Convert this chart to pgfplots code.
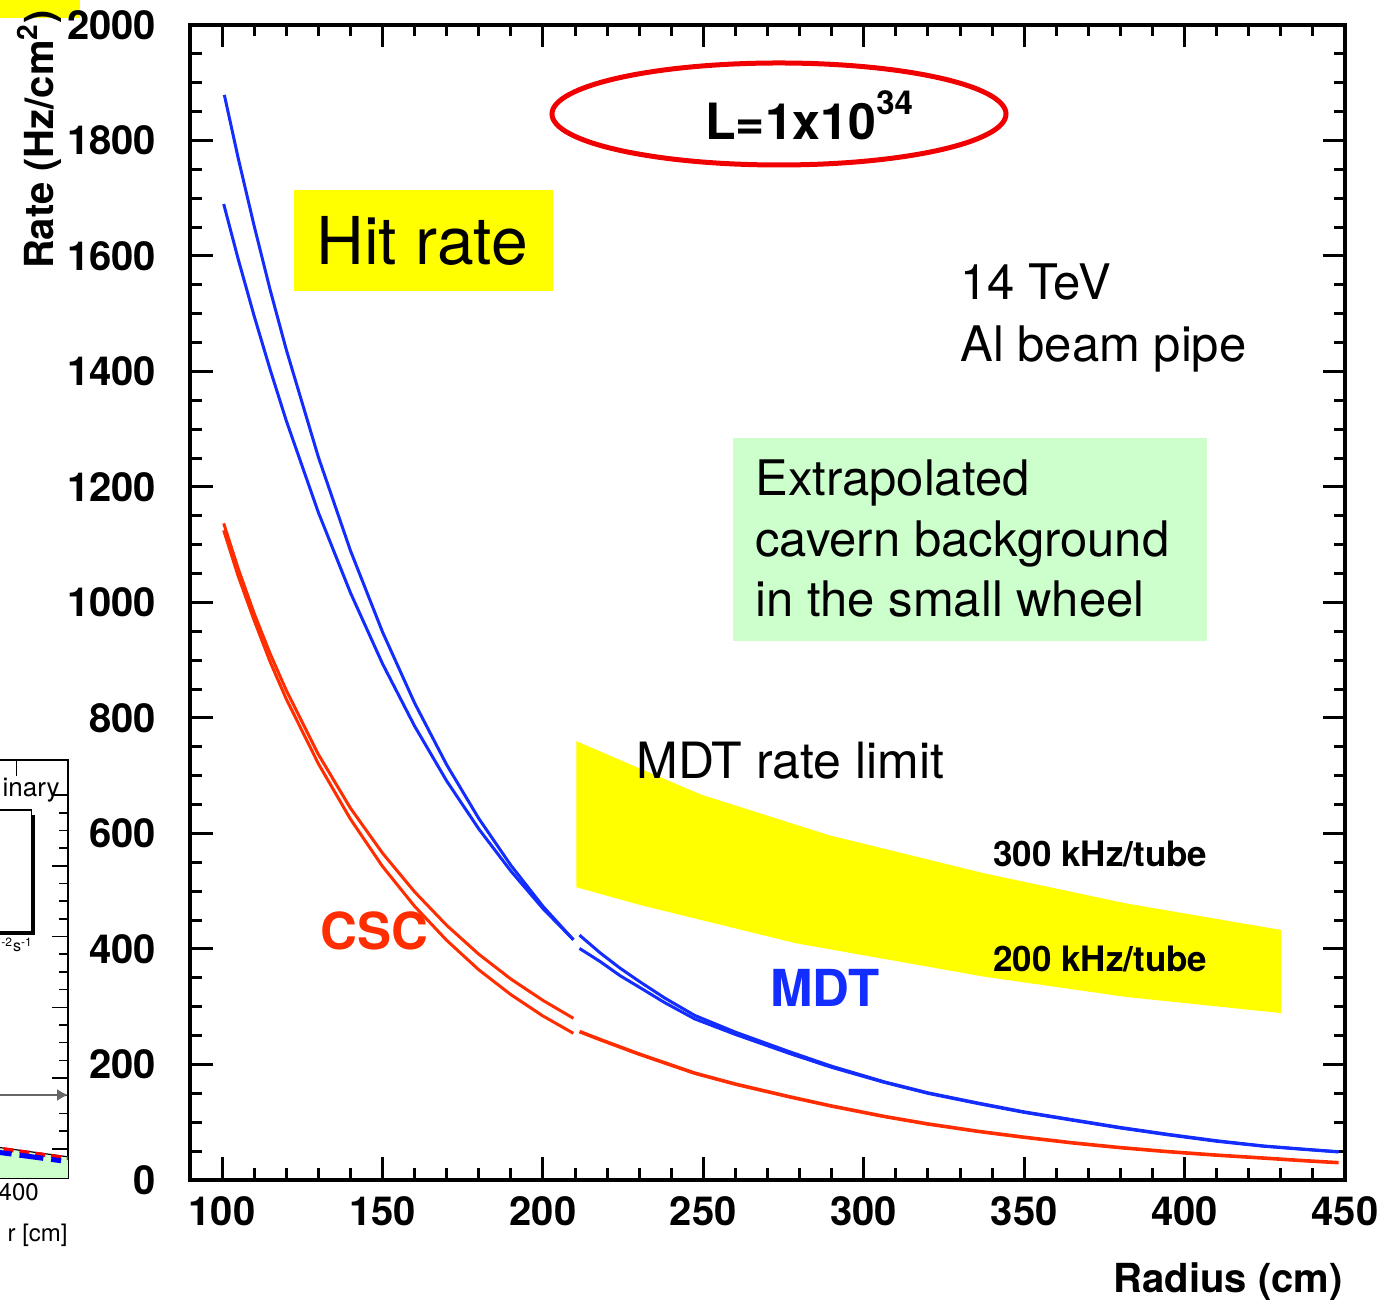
\documentclass[border=0pt]{standalone}
\usepackage{pgfplots}
\pgfplotsset{compat=1.18}
\usepackage{fontspec}
\setmainfont{TeX Gyre Heros}
\usetikzlibrary{arrows.meta}

\definecolor{mdtblue}{RGB}{20,45,255}
\definecolor{cscred}{RGB}{255,45,0}
\definecolor{lumired}{RGB}{240,0,0}
\definecolor{bandyellow}{RGB}{255,255,0}
\definecolor{boxgreen}{RGB}{204,255,204}

\begin{document}
\begin{tikzpicture}[x=1pt,y=1pt]
\useasboundingbox (0,0) rectangle (691.5,650);

% ---- neighbouring panel (background rates vs r), mostly outside the page ----
\begin{axis}[at={(-164pt,61pt)}, anchor=south west, scale only axis,
  width=198pt, height=209pt,
  xmin=0, xmax=460, ymin=-0.414, ymax=5.498,
  xtick={0,100,...,400}, xticklabels={,,,,400}, minor x tick num=4,
  ytick={0,...,5}, minor y tick num=3, yticklabel=\empty,
  tick align=inside, xtick pos=both, ytick pos=both,
  axis line style={line width=0.9pt},
  major tick length=8pt, minor tick length=4.5pt,
  every tick/.style={black, line width=0.8pt},
  /pgf/number format/assume math mode=true,
  xticklabel style={font=\fontsize{12}{14}\selectfont, anchor=north, inner sep=0pt, yshift=-2.5pt, xshift=1.2pt},
]
\addplot[fill=boxgreen, draw=none] coordinates {(330,-0.414) (330,0.085) (460,-0.13) (460,-0.414)} -- cycle;
\addplot[black, line width=0.6pt] coordinates {(330,0.1) (460,-0.115)};
\addplot[red, line width=2pt, dash pattern=on 5pt off 3pt] coordinates {(330,0.09) (460,-0.135)};
\addplot[blue, line width=2.5pt, dash pattern=on 12pt off 4pt] coordinates {(330,0.03) (452,-0.17)};
\end{axis}
\draw[black!60, line width=0.7pt, -{Latex[length=5.5pt, width=6pt]}] (-50,102.5) -- (34,102.5);
\draw[line width=0.8pt] (-50,245) rectangle (15.8,184.2);
\fill[black] (15.8,182.5) rectangle (17.6,242.5);
\fill[black] (-50,182.5) rectangle (17.6,184.6);
\node[anchor=base east, inner sep=0, font=\fontsize{13}{15}\selectfont] at (30,251.5) {inary};
\node[anchor=base west, inner sep=0, font=\fontsize{8}{9}\selectfont] at (0.5,174) {\textsuperscript{-2}s\textsuperscript{-1}};
\node[anchor=base east, inner sep=0, font=\fontsize{12}{14}\selectfont] at (34,29) {r [cm]};
\fill[bandyellow] (0,641) rectangle (40,650);

% ---- main panel: hit rate vs radius ----
\begin{axis}[at={(95pt,60pt)}, anchor=south west, scale only axis,
  width=577.5pt, height=577.5pt,
  xmin=90, xmax=450, ymin=0, ymax=2000,
  xtick={100,150,...,450}, minor x tick num=4,
  ytick={0,200,...,2000}, minor y tick num=3,
  tick align=inside, xtick pos=both, ytick pos=both,
  axis line style={line width=1.75pt},
  major tick length=11.25pt, minor tick length=5.75pt,
  every tick/.style={black, line width=1.5pt},
  ticklabel style={font=\fontsize{20}{24}\selectfont\bfseries},
  /pgf/number format/assume math mode=true,
  /pgf/number format/1000 sep={},
  xticklabel style={anchor=north, inner sep=0pt, yshift=-8.3pt},
  yticklabel style={anchor=east, inner sep=0pt, xshift=-16.7pt},
]
% MDT rate limit band (300 to 200 kHz/tube)
\addplot[fill=bandyellow, draw=none] coordinates {
  (210.4,760) (230,713) (249.5,667) (289.2,597) (337.6,531) (381.7,479) (430,433)
  (430,289) (381.7,317) (337.6,352) (278.8,410) (230.4,476) (210.4,507)} -- cycle;

% MDT, r < 210 cm
\addplot[mdtblue, line width=1.5pt] coordinates {
  (100.7,1879) (105,1770) (110,1652) (115,1541) (120,1438) (130,1252) (140,1090)
  (150,949) (160,826) (170,719) (180,626) (190,545) (200,474) (209.5,416)};
\addplot[mdtblue, line width=1.5pt] coordinates {
  (100.5,1690) (105,1595) (110,1496) (115,1403) (120,1315) (130,1156) (140,1017)
  (150,894) (160,786) (170,691) (180,608) (190,535) (200,470) (209.5,416)};
% MDT, r > 210 cm
\addplot[mdtblue, line width=1.5pt] coordinates {
  (211.4,424) (217.9,393) (224,367) (230,344) (238,315) (247.3,285) (260,256)
  (276.9,222) (290,197) (306.4,170) (320,151) (335.9,133) (350,118) (365.5,104)
  (380,91) (395,79) (410,68) (424.5,59) (437,53.5) (448,49)};
\addplot[mdtblue, line width=1.5pt] coordinates {
  (211.4,401) (217.9,378) (224,354) (230,334) (238,307) (247.3,279) (260,252)
  (276.9,219) (290,195) (306.4,169) (320,150) (335.9,132) (350,117) (365.5,103)
  (380,90) (395,78) (410,67) (424.5,58.5) (437,53) (448,48.5)};

% CSC, r < 210 cm
\addplot[cscred, line width=1.5pt] coordinates {
  (100.5,1137) (105,1059) (110,981) (115,911) (120,848) (130,737) (140,644)
  (150,566) (160,499) (170,441) (180,391) (190,348) (200,311) (209.5,280)};
\addplot[cscred, line width=1.5pt] coordinates {
  (100.5,1125) (105,1046) (110,969) (115,897) (120,833) (130,721) (140,625)
  (150,543) (160,474) (170,415) (180,364) (190,321) (200,284) (209.5,254)};
% CSC, r > 210 cm
\addplot[cscred, line width=1.8pt] coordinates {
  (211.4,257) (217.9,243) (230,218) (247.3,185) (260,166) (276.9,144) (290,128)
  (306.4,110) (320,97) (335.9,84) (350,74) (365.5,64) (380,56) (395,49)
  (410,43) (424.5,38) (437,33.5) (448,30)};
\end{axis}

% annotations
\fill[bandyellow] (147,504.5) rectangle (276.5,555);
\node[anchor=base west, inner sep=0, font=\fontsize{33}{40}\selectfont] at (158,517.5) {Hit rate};

\draw[lumired, line width=2.5pt] (389.5,593) ellipse [x radius=113.5, y radius=25.5];
\node[anchor=base west, inner sep=0, font=\fontsize{25}{30}\selectfont\bfseries] at (352.5,580)
  {L=1x10\raisebox{12.5pt}{\fontsize{16.5}{18}\selectfont 34}};

\node[anchor=base west, inner sep=0, font=\fontsize{24.5}{30}\selectfont] at (480,500) {14 TeV};
\node[anchor=base west, inner sep=0, font=\fontsize{24.5}{30}\selectfont] at (480,469) {Al beam pipe};

\fill[boxgreen] (366.5,329.5) rectangle (603.5,431);
\node[anchor=base west, inner sep=0, font=\fontsize{24.5}{30}\selectfont] at (377.5,402) {Extrapolated};
\node[anchor=base west, inner sep=0, font=\fontsize{24.5}{30}\selectfont] at (377.5,371.5) {cavern background};
\node[anchor=base west, inner sep=0, font=\fontsize{24.5}{30}\selectfont] at (377.5,341.5) {in the small wheel};

\node[anchor=base west, inner sep=0, font=\fontsize{25}{30}\selectfont] at (318,260.5) {MDT rate limit};
\node[anchor=base west, inner sep=0, font=\fontsize{17.5}{20}\selectfont\bfseries] at (496.5,216.5) {300 kHz/tube};
\node[anchor=base west, inner sep=0, font=\fontsize{17.5}{20}\selectfont\bfseries] at (496.5,164) {200 kHz/tube};

\node[anchor=base west, inner sep=0, text=cscred, font=\fontsize{25.5}{30}\selectfont\bfseries] at (160,175) {CSC};
\node[anchor=base west, inner sep=0, text=mdtblue, font=\fontsize{25.5}{30}\selectfont\bfseries] at (385,146.5) {MDT};

\node[rotate=90, anchor=base east, inner sep=0, font=\fontsize{20}{24}\selectfont\bfseries] at (26.5,645)
  {Rate (Hz/cm\textsuperscript{2})};
\node[anchor=base east, inner sep=0, font=\fontsize{20}{24}\selectfont\bfseries] at (671.5,3.5) {Radius (cm)};
\end{tikzpicture}
\end{document}
